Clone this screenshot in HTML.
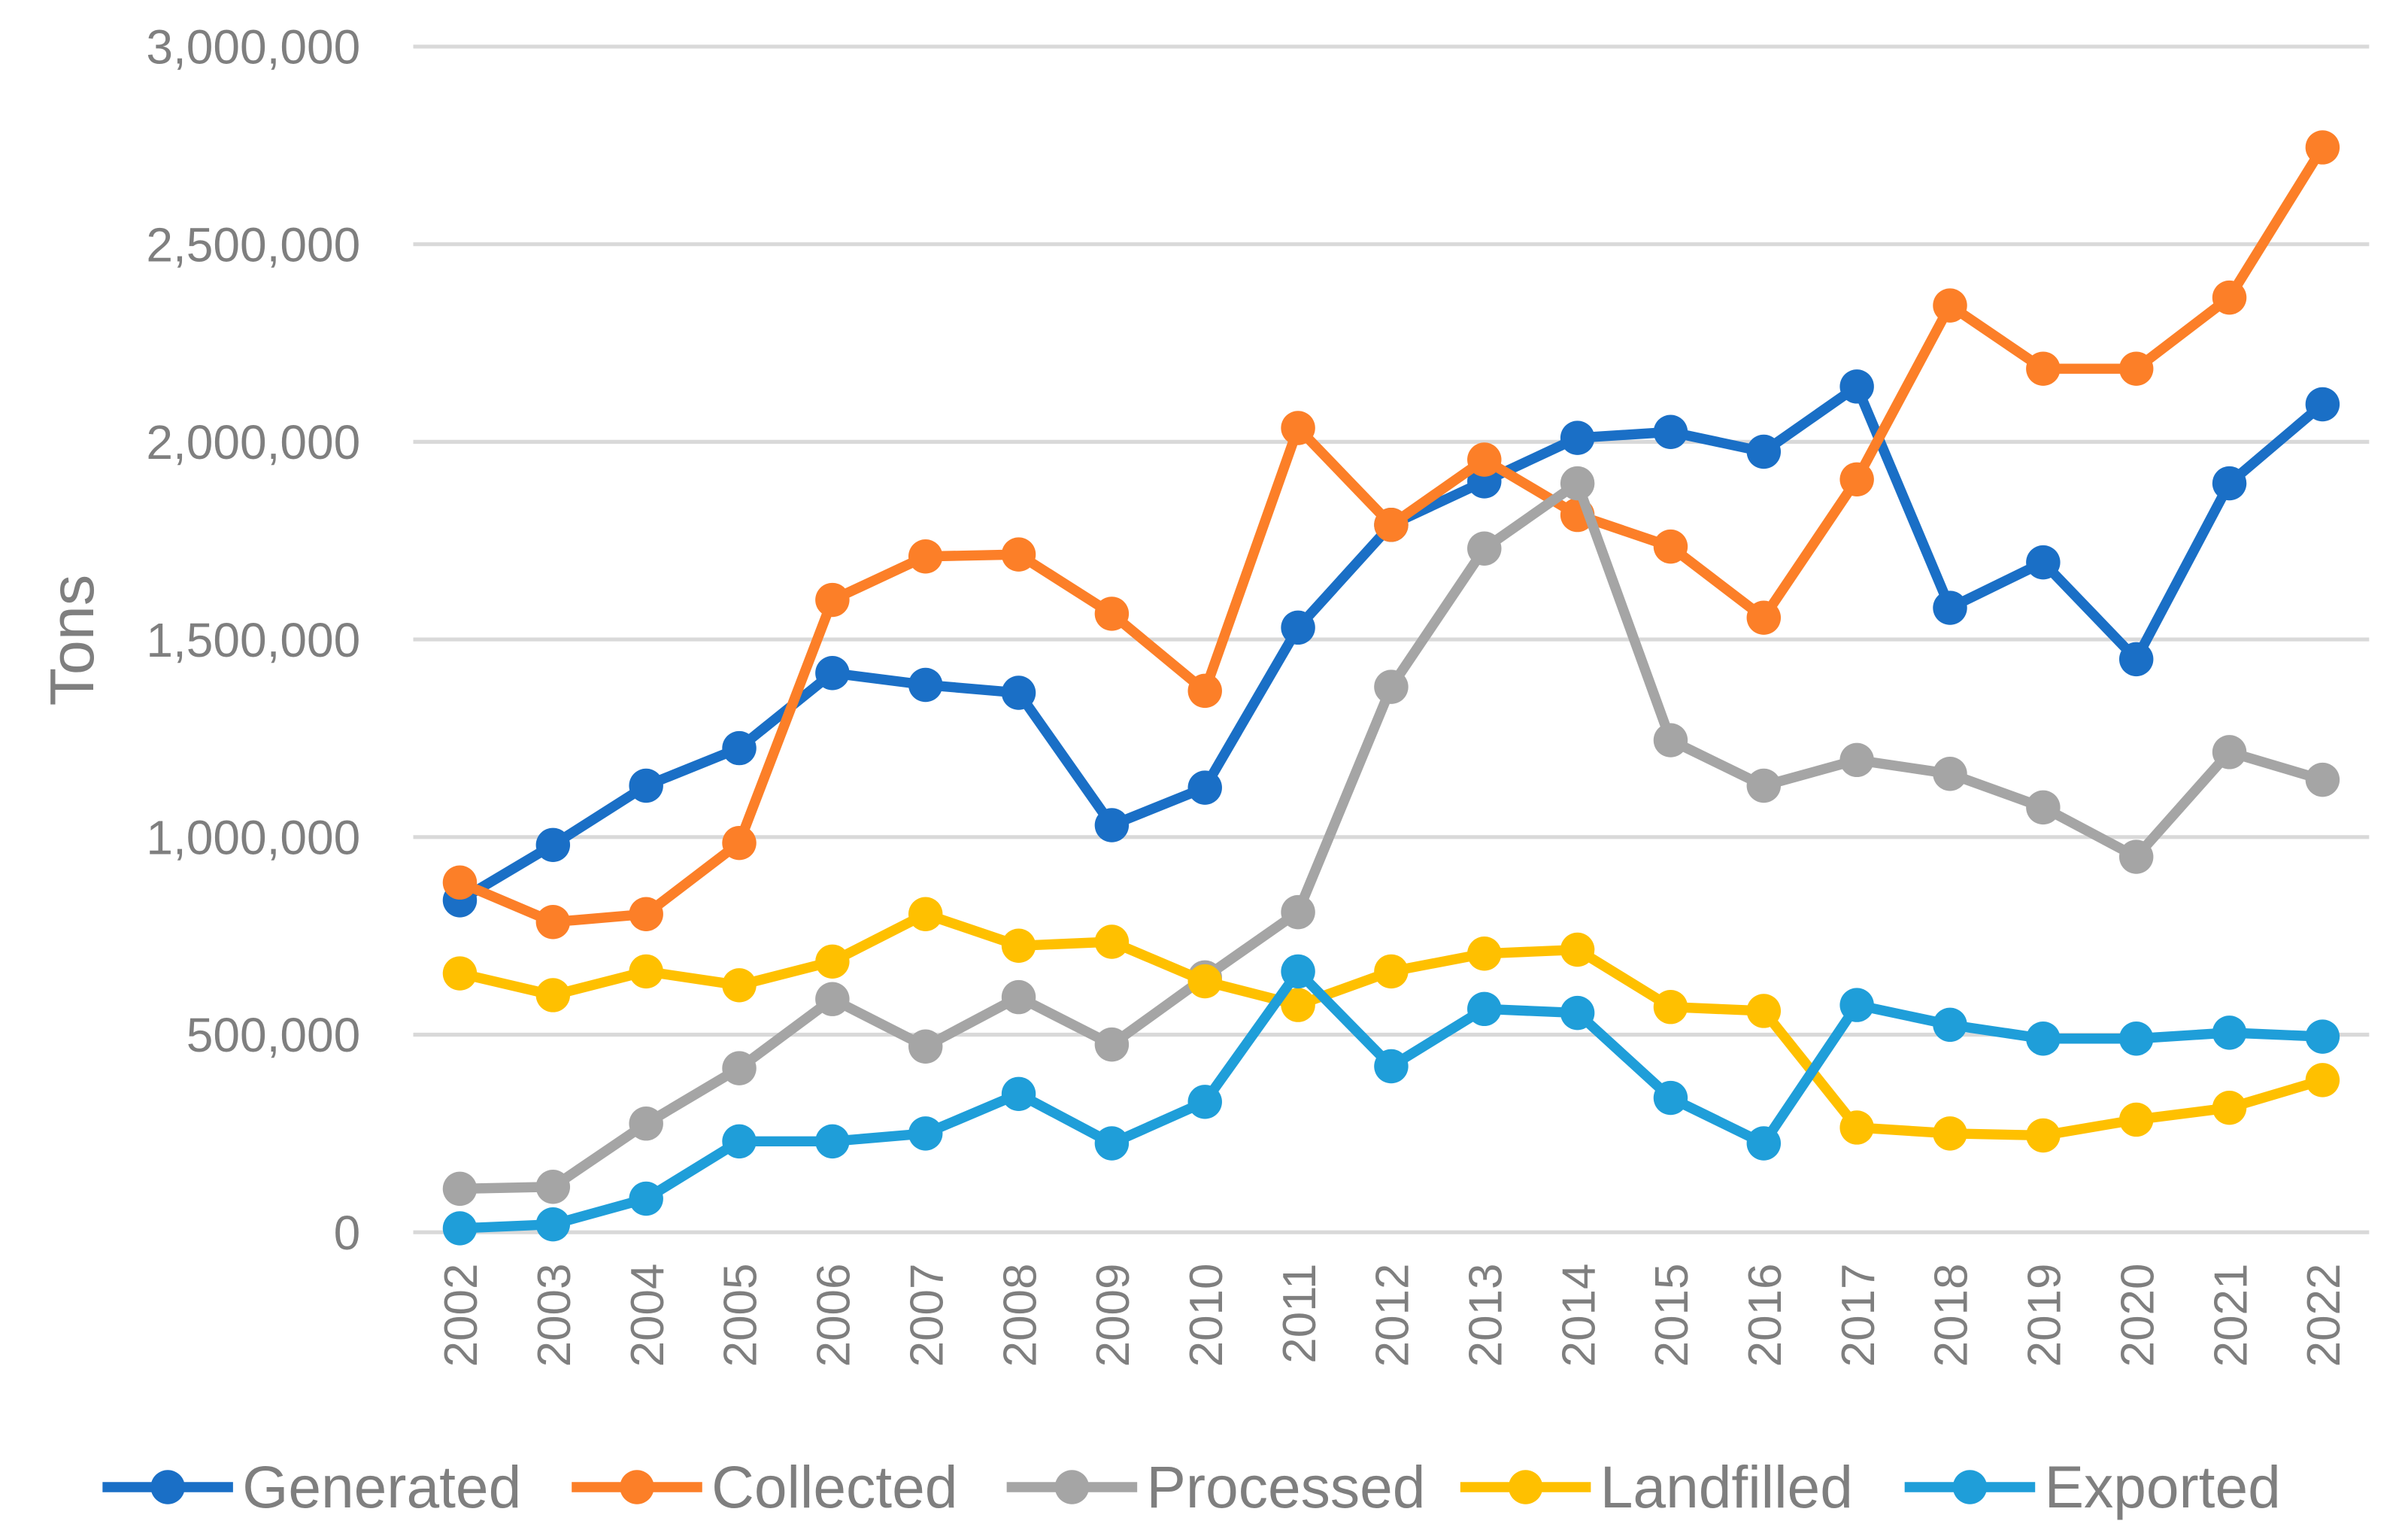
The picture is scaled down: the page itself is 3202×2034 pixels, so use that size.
<!DOCTYPE html>
<html><head><meta charset="utf-8"><style>
html,body{margin:0;padding:0;background:#fff;}
svg{display:block;}
text{font-family:"Liberation Sans",sans-serif;fill:#7f7f7f;}
</style></head><body>
<svg id="chart" width="3202" height="2034" viewBox="0 0 1550 984.6" preserveAspectRatio="none" xmlns="http://www.w3.org/2000/svg">
<g id="grid"></g>
<g id="yticks"></g>
<g id="xticks"></g>
<text transform="translate(60,412) rotate(-90)" text-anchor="middle" font-size="40">Tons</text>
<g id="series"></g>
<g id="legend"></g>
</svg>
<script>
const years = [2002,2003,2004,2005,2006,2007,2008,2009,2010,2011,2012,2013,2014,2015,2016,2017,2018,2019,2020,2021,2022];
const yTicks = [0,500000,1000000,1500000,2000000,2500000,3000000];
const yTickLabels = ["0","500,000","1,000,000","1,500,000","2,000,000","2,500,000","3,000,000"];
const seriesNames = ["Generated","Collected","Processed","Landfilled","Exported"];
const generated = [840000,980000,1130000,1225000,1415000,1385000,1365000,1030000,1125000,1530000,1790000,1900000,2010000,2025000,1975000,2140000,1580000,1695000,1450000,1895000,2095000];
const collected = [885000,785000,805000,985000,1600000,1710000,1715000,1565000,1370000,2035000,1790000,1955000,1815000,1735000,1555000,1905000,2345000,2185000,2185000,2365000,2745000];
const processed = [110000,115000,275000,415000,590000,470000,595000,475000,645000,810000,1380000,1730000,1895000,1245000,1130000,1195000,1160000,1075000,950000,1215000,1145000];
const landfilled = [655000,600000,660000,625000,685000,805000,725000,735000,635000,575000,660000,705000,715000,570000,560000,265000,250000,245000,285000,315000,385000];
const exported = [10000,20000,85000,230000,230000,250000,350000,225000,330000,660000,420000,565000,555000,340000,225000,575000,525000,490000,490000,505000,495000];

const NS="http://www.w3.org/2000/svg";
const colors=["#1A6FC6","#FC7F28","#A5A5A5","#FFC000","#1F9ED9"];
const dataSets=[generated,collected,processed,landfilled,exported];
const plotL=266,plotR=1525,y0=793,y3=30,yMax=3000000;
const xFirst=296,xLast=1495;
function xs(i){return xFirst+(xLast-xFirst)*i/(years.length-1);}
function ys(v){return y0-(y0-y3)*v/yMax;}
function mk(tag,attrs,parent){const e=document.createElementNS(NS,tag);for(const k in attrs)e.setAttribute(k,attrs[k]);parent.appendChild(e);return e;}

const grid=document.getElementById('grid'),yt=document.getElementById('yticks'),xt=document.getElementById('xticks');
yTicks.forEach((v,i)=>{
  const l=mk('line',{x1:plotL,x2:plotR,y1:ys(v),y2:ys(v),stroke:'#d9d9d9','stroke-width':2.5},grid);
  
  
  const t=mk('text',{x:232,y:ys(v)+11,'text-anchor':'end','font-size':31},yt);
  t.textContent=yTickLabels[i];
  
  
});
years.forEach((yr,i)=>{
  const t=mk('text',{transform:`translate(${xs(i)+11},813) rotate(-90)`,'text-anchor':'end','font-size':30},xt);
  t.textContent=yr;
  
  
});
const sg=document.getElementById('series');
dataSets.forEach((d,s)=>{
  const g=mk('g',{},sg);
  
  
  const p=mk('polyline',{points:d.map((v,i)=>xs(i)+','+ys(v)).join(' '),fill:'none',stroke:colors[s],'stroke-width':6.5,'stroke-linejoin':'round'},g);
  
  
  d.forEach((v,i)=>{
    const c=mk('circle',{cx:xs(i),cy:ys(v),r:11,fill:colors[s]},g);
    
    
  });
});
const lg=document.getElementById('legend');
const legX=[66,368,648,940,1226];
seriesNames.forEach((n,s)=>{
  const g=mk('g',{},lg);
  
  
  mk('line',{x1:legX[s],x2:legX[s]+84,y1:957,y2:957,stroke:colors[s],'stroke-width':6.5},g);
  mk('circle',{cx:legX[s]+42,cy:957,r:11,fill:colors[s]},g);
  const t=mk('text',{x:legX[s]+90,y:970,'font-size':38},g);
  t.textContent=n;
});
</script>
</body></html>
